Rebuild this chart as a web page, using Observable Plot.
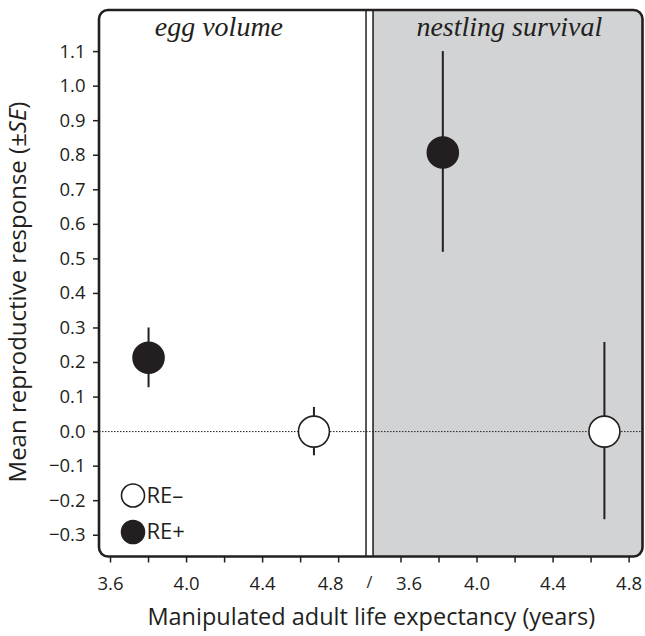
<!DOCTYPE html>
<html><head><meta charset="utf-8">
<script src="https://cdn.jsdelivr.net/npm/d3@7"></script>
<script src="https://cdn.jsdelivr.net/npm/@observablehq/plot@0.6"></script>
<style>body{margin:0;background:#fff}#chart{width:645px;height:636px}</style>
</head><body><div id="chart"></div>
<script>
// ---- data ----
const panels = ["egg volume", "nestling survival"];
const panelOf = ["egg volume", "egg volume", "nestling survival", "nestling survival"];
const groupOf = ["RE+", "RE–", "RE+", "RE–"];
const lifeExp = [3.80, 4.67, 3.82, 4.67];
const meanResp = [0.214, 0.0, 0.808, 0.0];
const seLow = [0.127, -0.070, 0.519, -0.255];
const seHigh = [0.300, 0.070, 1.100, 0.258];
const legendGroups = ["RE–", "RE+"];
const yTicks = [-0.3, -0.2, -0.1, 0.0, 0.1, 0.2, 0.3, 0.4, 0.5, 0.6, 0.7, 0.8, 0.9, 1.0, 1.1];
const xTicks = [3.6, 3.8, 4.0, 4.2, 4.4, 4.6, 4.8];
const xLabels = [3.6, 4.0, 4.4, 4.8];
const leftDomain = [3.542, 4.944];
const rightDomain = [3.453, 4.873];
const yDomain = [-0.363, 1.219];
const xTitle = "Manipulated adult life expectancy (years)";

// ---- layout helpers ----
const ink = "#231f20", gray = "#d1d3d4";
const font = "'Open Sans', sans-serif";
const tickFont = 18.5;
const gap = 0.037;
const offset = leftDomain[1] + gap - rightDomain[0];
const rightStart = rightDomain[0] + offset;
const xMax = rightDomain[1] + offset;
const toU = (panel, v) => panel === panels[1] ? v + offset : v;

const data = lifeExp.map((v, i) => ({
  panel: panelOf[i], group: groupOf[i],
  u: toU(panelOf[i], v), y: meanResp[i], lo: seLow[i], hi: seHigh[i]
}));

const allTicks = xTicks.concat(xTicks.map(v => v + offset));
const fmt = d3.format(".1f");
const labelFor = d => {
  const v = d > rightStart - gap / 2 ? d - offset : d;
  const isLabel = xLabels.some(l => Math.abs(l - v) < 1e-6);
  if (!isLabel) return "";
  // the two labels beside the break are drawn separately
  if (d < rightStart && Math.abs(v - xLabels[xLabels.length - 1]) < 1e-6) return "";
  if (d > rightStart && Math.abs(v - xLabels[0]) < 1e-6) return "";
  return fmt(v);
};
const edgeLeft = xLabels[xLabels.length - 1];
const edgeRight = xLabels[0] + offset;

const bgRound = [{x1: rightStart, x2: xMax, y1: yDomain[0], y2: yDomain[1]}];
const bgSharp = [{x1: rightStart, x2: (rightStart + xMax) / 2, y1: yDomain[0], y2: yDomain[1]}];
const frameBox = [{x1: leftDomain[0], x2: xMax, y1: yDomain[0], y2: yDomain[1]}];

const plot = Plot.plot({
  width: 645,
  height: 636,
  marginLeft: 99,
  marginRight: 2.5,
  marginTop: 10,
  marginBottom: 79.5,
  style: {fontFamily: font, fontSize: "16px", color: ink, background: "#fff", overflow: "visible"},
  x: {domain: [leftDomain[0], xMax], axis: null},
  y: {domain: yDomain, axis: null},
  marks: [
    Plot.rect(bgRound, {x1: "x1", x2: "x2", y1: "y1", y2: "y2", fill: gray, rx: 9}),
    Plot.rect(bgSharp, {x1: "x1", x2: "x2", y1: "y1", y2: "y2", fill: gray}),
    Plot.ruleY([0], {stroke: ink, strokeWidth: 1, strokeDasharray: "1.5,1.5"}),
    Plot.ruleX([leftDomain[1], rightStart], {stroke: ink, strokeWidth: 1.5}),
    Plot.rect(frameBox, {x1: "x1", x2: "x2", y1: "y1", y2: "y2", fill: "none", stroke: ink, strokeWidth: 2.6, rx: 9}),
    Plot.ruleX(data, {x: "u", y1: "lo", y2: "hi", stroke: ink, strokeWidth: 2}),
    Plot.dot(data, {x: "u", y: "y", r: 15.5, fill: d => d.group === "RE+" ? ink : "#fff", stroke: ink, strokeWidth: 1.6}),
    Plot.text(panels, {x: (d, i) => 4.17 + (i ? offset : 0), frameAnchor: "top", lineAnchor: "middle", dy: 17, fontFamily: "'Liberation Serif', serif", fontStyle: "italic", fontSize: 28, fill: ink}),
    // y axis
    Plot.axisY(yTicks, {tickSize: 6, tickPadding: 8, tickFormat: fmt, stroke: ink, strokeWidth: 1.5, fill: ink, fontSize: tickFont, label: null}),
    // x axis
    Plot.axisX(allTicks, {tickSize: 6, tickPadding: 14, tickFormat: labelFor, stroke: ink, strokeWidth: 1.5, fill: ink, fontSize: tickFont, label: null}),
    Plot.axisX([edgeLeft], {tickSize: 0, tickPadding: 20, tickFormat: fmt, dx: -8, fill: ink, fontSize: tickFont, label: null}),
    Plot.axisX([edgeRight], {tickSize: 0, tickPadding: 20, tickFormat: d => fmt(d - offset), dx: 8, fill: ink, fontSize: tickFont, label: null}),
    Plot.text(["/"], {x: (leftDomain[1] + rightStart) / 2, frameAnchor: "bottom", lineAnchor: "middle", dy: 25.5, fontSize: 16, fill: ink}),
    Plot.text([xTitle], {frameAnchor: "bottom", lineAnchor: "middle", dy: 60.5, fontSize: 23.5, fill: ink}),
    // legend
    Plot.dot([legendGroups[0]], {frameAnchor: "bottom-left", dx: 33.5, dy: -61.5, r: 11.5, fill: "#fff", stroke: ink, strokeWidth: 1.6}),
    Plot.dot([legendGroups[1]], {frameAnchor: "bottom-left", dx: 33.5, dy: -25, r: 11.5, fill: ink, stroke: ink, strokeWidth: 1.6}),
    Plot.text([legendGroups[0]], {frameAnchor: "bottom-left", lineAnchor: "middle", dx: 47, dy: -61.5, textAnchor: "start", fontSize: 22, fill: ink}),
    Plot.text([legendGroups[1]], {frameAnchor: "bottom-left", lineAnchor: "middle", dx: 47, dy: -25, textAnchor: "start", fontSize: 22, fill: ink})
  ]
});
document.getElementById("chart").appendChild(plot);

// y-axis title with italic SE
const svg = d3.select(plot);
const yt = svg.append("text")
  .attr("transform", "translate(20,292) rotate(-90)")
  .attr("text-anchor", "middle")
  .attr("dominant-baseline", "middle")
  .attr("fill", ink)
  .style("font-size", "24px")
  .style("font-family", font);
yt.append("tspan").text("Mean reproductive response (±");
yt.append("tspan").style("font-style", "italic").text("SE");
yt.append("tspan").text(")");
</script>
</body></html>
